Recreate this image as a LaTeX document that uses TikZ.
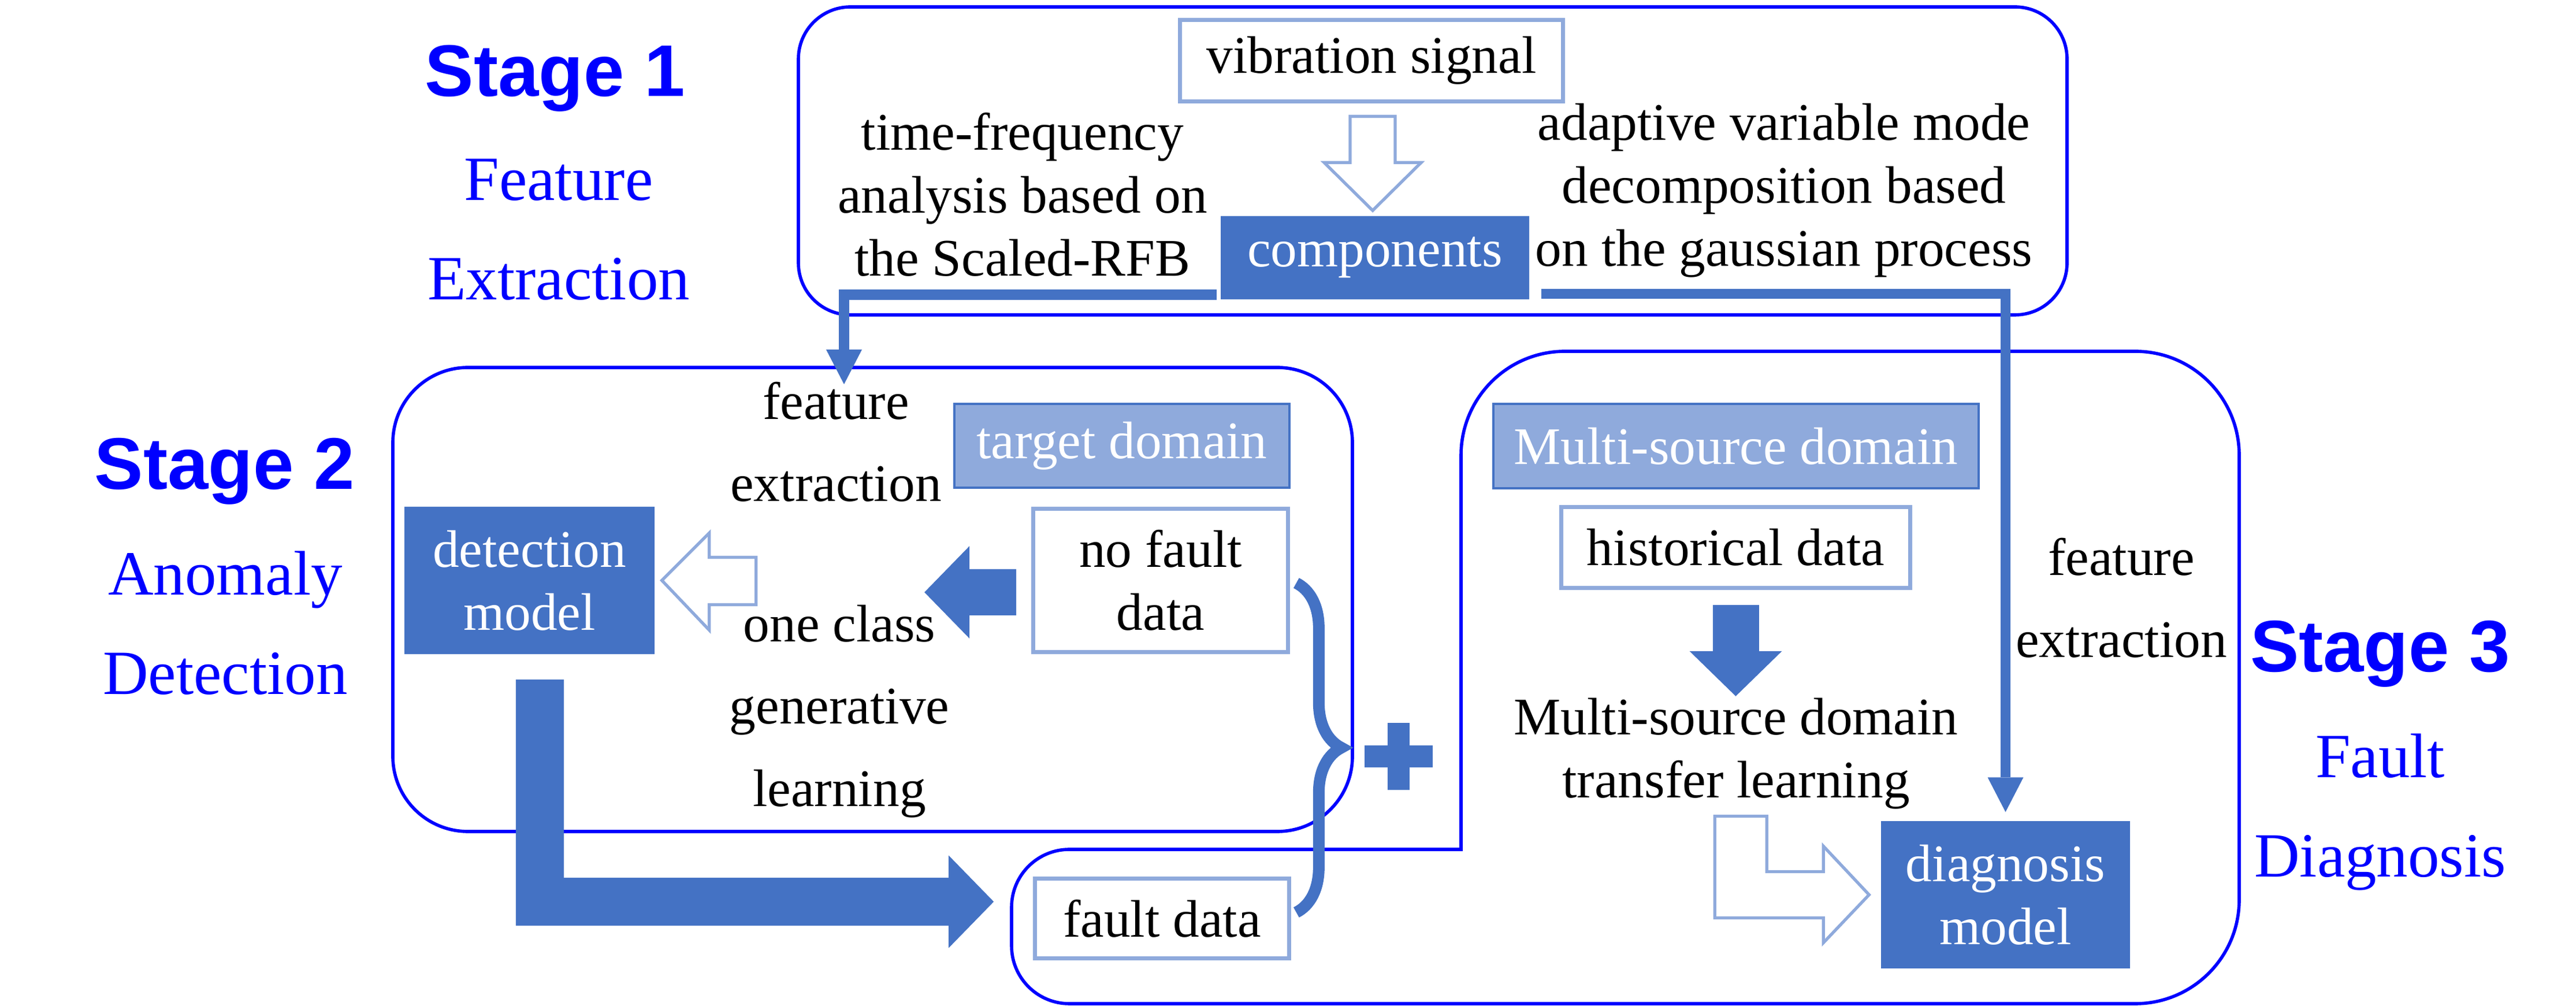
\documentclass[tikz,border=0pt]{standalone}
\usepackage{fontspec}
\setmainfont{Liberation Serif}
\setsansfont{Liberation Sans}
\usepackage{tikz}
\usetikzlibrary{arrows.meta,calc,decorations.pathreplacing}
\definecolor{stageblue}{RGB}{0,0,255}
\definecolor{fillblue}{RGB}{68,114,196}
\definecolor{lineblue}{RGB}{143,170,220}

\begin{document}
\begin{tikzpicture}[
    stagebox/.style={draw=stageblue, line width=1.6pt},
    note/.style={align=center, inner sep=0pt, font=\fontsize{26}{31}\selectfont},
    widenote/.style={note, font=\fontsize{26}{40.5}\selectfont},
    databox/.style={note, draw=lineblue, line width=1.9pt, fill=white},
    modelbox/.style={note, fill=fillblue, text=white},
    domainbox/.style={note, draw=fillblue, line width=1.2pt, fill=lineblue, text=white},
    stagetitle/.style={inner sep=0pt, text=stageblue, font=\sffamily\bfseries\fontsize{36}{43}\selectfont},
    stagename/.style={align=center, inner sep=0pt, text=stageblue, font=\fontsize{31}{49}\selectfont},
    feedline/.style={draw=fillblue, line width=5pt, -{Triangle[length=6mm 0, width=6.2mm 0, line width=0pt 0]}},
    fatarrow/.style={draw=fillblue, line width=8mm, -{Triangle[length=7.8mm 0, width=16mm 0, line width=0pt 0]}},
    hollowarrow/.style={draw=lineblue, line width=1.5pt, fill=white},
    databrace/.style={draw=fillblue, line width=5.7pt, decorate, decoration={brace, amplitude=7.8mm}},
    plusbar/.style={draw=fillblue, line width=3.8mm},
]
    \useasboundingbox (0,0) rectangle (44.59,17.41);
    % Draw the three stage frames
    \draw[stagebox, rounded corners=0.9cm] (13.82,11.96) rectangle (35.78,17.29);
    \draw[stagebox, rounded corners=1.3cm] (6.80,3.02) rectangle (23.41,11.05);
    \draw[stagebox, line cap=rect] (25.29,2.71) [rounded corners=1.8cm] -- (25.29,11.33)
        -- (38.76,11.33) -- (38.76,0.04) [rounded corners=1cm] -- (17.51,0.04)
        -- (17.51,2.71) [sharp corners] -- (25.29,2.71);
    % Stage labels
    \node[stagetitle] (s1) at (9.61,16.05) {Stage 1};
    \node[stagename] (s1name) at (9.67,13.44) {Feature\\Extraction};
    \node[stagetitle] (s2) at (3.89,9.25) {Stage 2};
    \node[stagename] (s2name) at (3.90,6.63) {Anomaly\\Detection};
    \node[stagetitle] (s3) at (41.20,6.09) {Stage 3};
    \node[stagename] (s3name) at (41.20,3.355) {Fault\\Diagnosis};
    % Stage 1: signal and components
    \node[databox, minimum width=6.63cm, minimum height=1.41cm] (vib) at (23.74,16.36) {vibration signal};
    \node[modelbox, minimum width=5.34cm, minimum height=1.44cm] (comp) at (23.80,12.95) {components};
    \node[note] (tfa) at (17.70,14.04) {time-frequency\\analysis based on\\the Scaled-RFB};
    \node[note] (avmd) at (30.88,14.11) {adaptive variable mode\\decomposition based\\on the gaussian process};
    \draw[hollowarrow] ($(comp.north)+(-0.04,0.09)$) -- ++(-0.84,0.83) -- ++(0.45,0) -- ++(0,0.80)
        -- ++(0.78,0) -- ++(0,-0.80) -- ++(0.45,0) -- cycle;
    % Stage 2: anomaly detection
    \node[domainbox, minimum width=5.80cm, minimum height=1.45cm] (target) at (19.42,9.695) {target domain};
    \node[widenote] (feat2) at (14.47,9.76) {feature\\extraction};
    \node[modelbox, minimum width=4.33cm, minimum height=2.55cm] (det) at (9.165,7.365) {detection\\model};
    \node[databox, minimum width=4.41cm, minimum height=2.48cm] (nofault) at (20.09,7.365) {no fault\\data};
    \node[widenote] (ocgl) at (14.53,5.10) {one class\\generative\\learning};
    \node[databox, minimum width=4.40cm, minimum height=1.38cm] (fault) at (20.115,1.515) {fault data};
    \draw[fatarrow] ($(nofault.west)+(-0.26,-0.205)$) -- ++(-1.59,0);
    \draw[hollowarrow] ($(det.east)+(0.12,0)$) -- ++(0.82,0.82) -- ++(0,-0.42) -- ++(0.81,0)
        -- ++(0,-0.82) -- ++(-0.81,0) -- ++(0,-0.44) -- cycle;
    \draw[fatarrow, line width=8.3mm] ($(det.south)+(0.18,-0.43)$) |- ($(fault.west)+(-0.68,0.29)$);
    % Stage 3: fault diagnosis
    \node[domainbox, minimum width=8.40cm, minimum height=1.46cm] (msd) at (30.05,9.69) {Multi-source domain};
    \node[databox, minimum width=6.04cm, minimum height=1.40cm] (hist) at (30.045,7.935) {historical data};
    \node[note] (mstl) at (30.05,4.37) {Multi-source domain\\transfer learning};
    \node[modelbox, minimum width=4.31cm, minimum height=2.55cm] (dmod) at (34.715,1.925) {diagnosis\\model};
    \node[widenote] (feat3) at (36.72,7.06) {feature\\extraction};
    \draw[fatarrow] ($(hist.south)+(0,-0.26)$) -- ++(0,-1.58);
    \draw[hollowarrow] ($(dmod.west)+(-0.20,0)$) -- ++(-0.79,0.84) -- ++(0,-0.44) -- ++(-0.98,0)
        -- ++(0,0.96) -- ++(-0.90,0) -- ++(0,-1.76) -- ++(1.88,0) -- ++(0,-0.43) -- cycle;
    % Feature lines out of the components
    \coordinate (fe2tip) at (14.61,10.76);
    \draw[feedline] ($(comp.south west)+(-0.06,0.085)$) -| (fe2tip);
    \draw[feedline] ($(comp.south east)+(0.20,0.10)$) -| ($(dmod.north)+(0,0.15)$);
    % Brace and plus joining the two kinds of data
    \draw[databrace] ($(nofault.east)+(0.11,-0.045)$) -- ($(fault.east)+(0.09,0.105)$);
    \draw[plusbar] (23.62,4.32) -- (24.80,4.32);
    \draw[plusbar] (24.21,3.74) -- (24.21,4.90);
\end{tikzpicture}
\end{document}
